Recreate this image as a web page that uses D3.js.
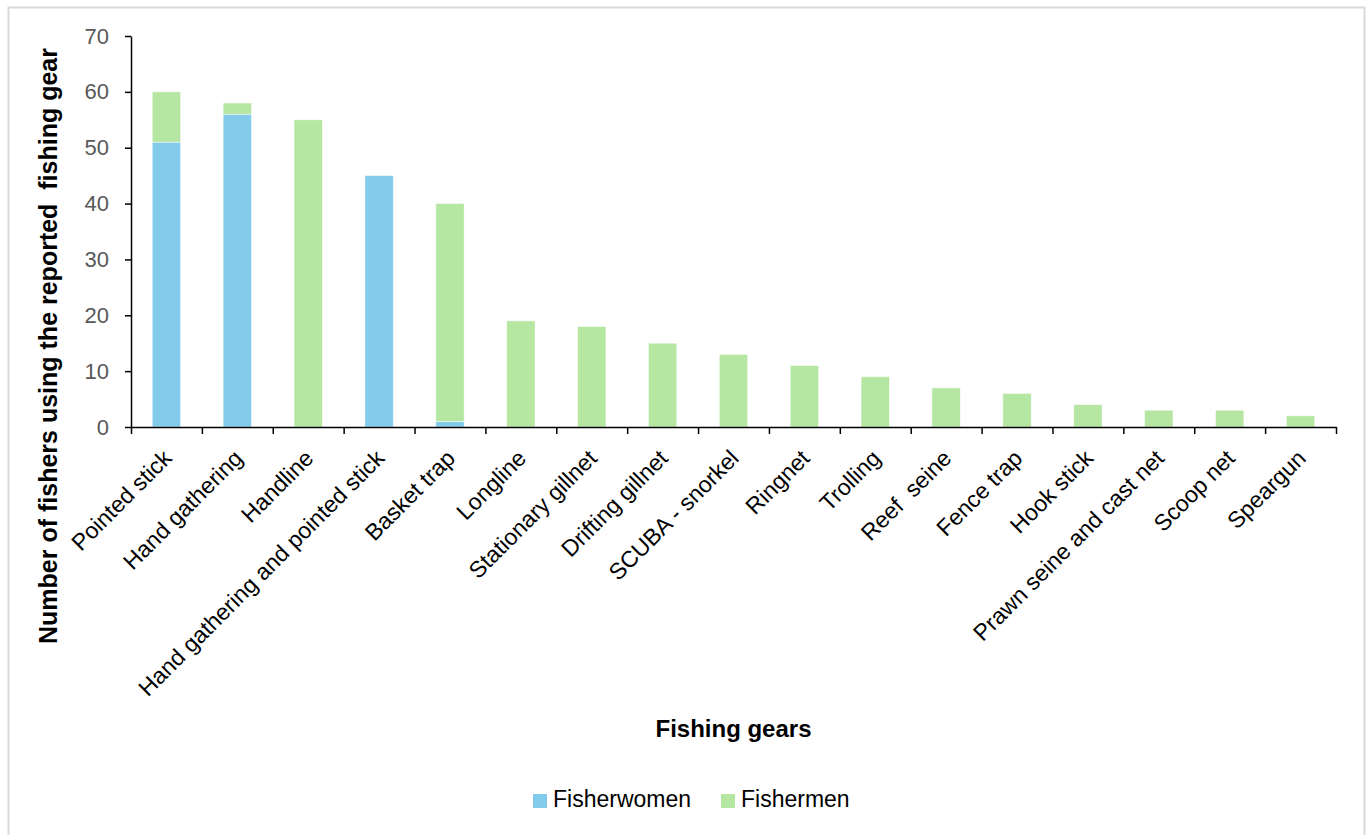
<!DOCTYPE html>
<html>
<head>
<meta charset="utf-8">
<script src="https://cdn.jsdelivr.net/npm/d3@7"></script>
<style>
  html, body { margin: 0; padding: 0; background: #fff; }
  svg { display: block; font-family: "Liberation Sans", Arial, sans-serif; }
</style>
</head>
<body>
<svg id="chart" width="1369" height="835"></svg>
<script>
// Fishing gear categories and number of fishers per gear
const gears = [
  "Pointed stick", "Hand gathering", "Handline", "Hand gathering and pointed stick",
  "Basket trap", "Longline", "Stationary gillnet", "Drifting gillnet",
  "SCUBA - snorkel", "Ringnet", "Trolling", "Reef  seine", "Fence trap",
  "Hook stick", "Prawn seine and cast net", "Scoop net", "Speargun"
];
const fisherwomen = [51, 56, 0, 45, 1, 0, 0, 0, 0, 0, 0, 0, 0, 0, 0, 0, 0];
const fishermen   = [9, 2, 55, 0, 39, 19, 18, 15, 13, 11, 9, 7, 6, 4, 3, 3, 2];
const yTicks = [0, 10, 20, 30, 40, 50, 60, 70];
const seriesNames = ["Fisherwomen", "Fishermen"];
const seriesColors = ["#83CBEB", "#B5E6A2"];

const svg = d3.select("#chart");

// outer frame
svg.append("rect")
  .attr("x", 8.5).attr("y", 7.5)
  .attr("width", 1356).attr("height", 840)
  .attr("fill", "#fff").attr("stroke", "#d9d9d9").attr("stroke-width", 2);

const plot = { left: 131, right: 1336, top: 36, bottom: 427 };

const x = d3.scaleBand().domain(gears).range([plot.left, plot.right]).padding(0);
const xEdge = d3.scaleLinear().domain([0, gears.length]).range([plot.left, plot.right]);
const y = d3.scaleLinear().domain([0, 70]).range([plot.bottom, plot.top]);

// stacked data
const rows = gears.map((g, i) => ({ gear: g, Fisherwomen: fisherwomen[i], Fishermen: fishermen[i] }));
const stack = d3.stack().keys(seriesNames)(rows);

const bw = x.bandwidth();
const barW = bw * 0.4;

svg.append("g").selectAll("g")
  .data(stack)
  .join("g")
  .attr("fill", (d, i) => seriesColors[i])
  .selectAll("rect")
  .data(d => d.filter(p => p[1] - p[0] > 0))
  .join("rect")
  .attr("x", d => x(d.data.gear) + (bw - barW) / 2)
  .attr("width", barW)
  .attr("y", d => y(d[1]))
  .attr("height", d => y(d[0]) - y(d[1]))
  .attr("stroke", "#ffffff")
  .attr("stroke-opacity", 0.6)
  .attr("stroke-width", 0.8);

// y axis
const yAxis = svg.append("g")
  .attr("transform", `translate(${plot.left},0)`)
  .call(d3.axisLeft(y).tickValues(yTicks).tickSize(6).tickPadding(16).tickSizeOuter(0));
yAxis.select(".domain").attr("stroke", "#000").attr("stroke-width", 1.5);
yAxis.selectAll(".tick line").attr("stroke", "#000").attr("stroke-width", 1.5);
yAxis.selectAll(".tick text")
  .attr("fill", "#595959")
  .style("font-size", "22px")
  .style("font-family", "'Liberation Sans', Arial, sans-serif");

// x axis with ticks between categories
const xAxis = svg.append("g")
  .attr("transform", `translate(0,${plot.bottom})`)
  .call(d3.axisBottom(xEdge).tickValues(d3.range(gears.length + 1)).tickSize(7).tickFormat("").tickSizeOuter(0));
xAxis.select(".domain").attr("stroke", "#000").attr("stroke-width", 1.5);
xAxis.selectAll(".tick line").attr("stroke", "#000").attr("stroke-width", 1.5);

// rotated category labels
svg.append("g").selectAll("text")
  .data(gears)
  .join("text")
  .attr("transform", d => `translate(${x(d) + bw / 2 + 1},${plot.bottom + 27}) rotate(-45)`)
  .attr("text-anchor", "end")
  .attr("dy", "0.35em")
  .attr("fill", "#000")
  .style("font-size", "23px")
  .style("white-space", "pre")
  .text(d => d);

// axis titles
svg.append("text")
  .attr("x", (plot.left + plot.right) / 2)
  .attr("y", 737)
  .attr("text-anchor", "middle")
  .style("font-size", "24px")
  .style("font-weight", "bold")
  .text("Fishing gears");

svg.append("text")
  .attr("transform", `translate(57,346) rotate(-90)`)
  .attr("text-anchor", "middle")
  .style("font-size", "25px")
  .style("font-weight", "bold")
  .style("white-space", "pre")
  .text("Number of fishers using the reported  fishing gear");

// legend
const legend = svg.append("g");
const legendX = [533, 721];
seriesNames.forEach((name, i) => {
  legend.append("rect")
    .attr("x", legendX[i]).attr("y", 794)
    .attr("width", 14).attr("height", 14)
    .attr("fill", seriesColors[i]);
  legend.append("text")
    .attr("x", legendX[i] + 20).attr("y", 807)
    .attr("fill", "#000")
    .style("font-size", "23px")
    .text(name);
});
</script>
</body>
</html>
